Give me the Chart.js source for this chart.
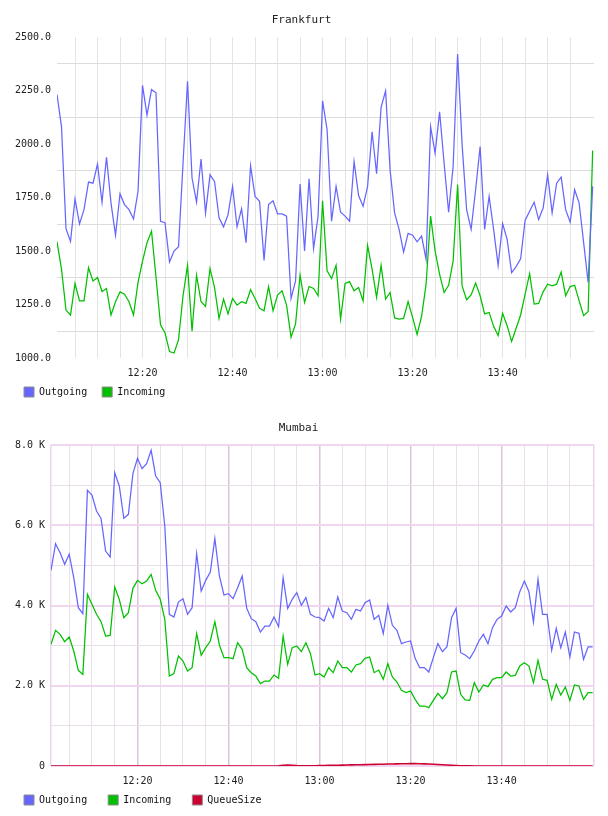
<!DOCTYPE html>
<html>
<head>
<meta charset="utf-8">
<title>Frankfurt / Mumbai</title>
<script src="https://cdn.jsdelivr.net/npm/chart.js@4.4.1/dist/chart.umd.min.js"></script>
<style>
  html, body { margin: 0; padding: 0; background: #fff; }
  #wrap { position: relative; width: 608px; height: 816px; }
  canvas { position: absolute; left: 0; }
  #chart-frankfurt { top: 0; }
  #chart-mumbai { top: 408px; }
</style>
</head>
<body>
<div id="wrap">
  <canvas id="chart-frankfurt" width="608" height="408"></canvas>
  <canvas id="chart-mumbai" width="608" height="408"></canvas>
</div>
<script>
// one sample per minute, minutes after 12:00 (12:01 .. 14:00)
const sampleMinutes = Array.from({ length: 120 }, (_, i) => i + 1);

// x axis: grid every 5 minutes, labels every 20
const xGridMinutes = [5, 10, 15, 20, 25, 30, 35, 40, 45, 50, 55, 60, 65, 70, 75, 80, 85, 90, 95, 100, 105, 110, 115];
const xTickMinutes = [20, 40, 60, 80, 100];
const xTickLabels = ['12:20', '12:40', '13:00', '13:20', '13:40'];

// y axis ticks
const frankfurtYTicks = [1000, 1125, 1250, 1375, 1500, 1625, 1750, 1875, 2000, 2125, 2250, 2375, 2500];
const mumbaiYTicks = [0, 1000, 2000, 3000, 4000, 5000, 6000, 7000, 8000];

const seriesNames = ['Outgoing', 'Incoming', 'QueueSize'];
const seriesColors = ['#6666ff', '#00c000', '#cc0033'];

// Frankfurt
const frankfurtOutgoing = [
  2231, 2081, 1604, 1545, 1743, 1627, 1693, 1822, 1817, 1906,
  1728, 1938, 1724, 1574, 1768, 1717, 1693, 1650, 1779, 2274,
  2135, 2254, 2239, 1639, 1632, 1449, 1500, 1520, 1910, 2293,
  1841, 1728, 1930, 1678, 1856, 1825, 1655, 1613, 1670, 1802,
  1613, 1697, 1539, 1898, 1755, 1732, 1456, 1717, 1735, 1673,
  1673, 1663, 1278, 1360, 1813, 1500, 1838, 1511, 1663, 2202,
  2068, 1639, 1802, 1681, 1663, 1639, 1918, 1759, 1709, 1802,
  2057, 1861, 2171, 2248, 1879, 1678, 1601, 1495, 1582, 1574,
  1543, 1570, 1461, 2081, 1957, 2150, 1910, 1681, 1895, 2421,
  1996, 1693, 1601, 1786, 1988, 1601, 1755, 1601, 1433, 1628,
  1554, 1399, 1427, 1464, 1644, 1686, 1728, 1647, 1701, 1856,
  1678, 1817, 1845, 1693, 1635, 1786, 1724, 1539, 1353, 1802
];
const frankfurtIncoming = [
  1543, 1415, 1224, 1201, 1348, 1267, 1267, 1422, 1360, 1376,
  1311, 1325, 1201, 1263, 1309, 1298, 1263, 1201, 1353, 1453,
  1539, 1593, 1376, 1155, 1117, 1030, 1023, 1086, 1291, 1433,
  1125, 1387, 1263, 1241, 1418, 1329, 1185, 1275, 1206, 1278,
  1247, 1263, 1255, 1319, 1278, 1232, 1221, 1333, 1221, 1294,
  1314, 1247, 1097, 1159, 1387, 1260, 1334, 1325, 1291, 1735,
  1407, 1371, 1433, 1182, 1348, 1357, 1314, 1329, 1267, 1526,
  1415, 1283, 1433, 1275, 1306, 1187, 1182, 1185, 1264, 1190,
  1110, 1195, 1345, 1663, 1500, 1391, 1306, 1340, 1453, 1810,
  1337, 1272, 1295, 1350, 1291, 1206, 1213, 1148, 1105, 1209,
  1151, 1077, 1139, 1201, 1298, 1394, 1252, 1255, 1309, 1345,
  1337, 1345, 1402, 1291, 1334, 1340, 1267, 1198, 1217, 1969
];

// Mumbai
const mumbaiOutgoing = [
  4876, 5541, 5317, 5026, 5275, 4693, 3946, 3796, 6870, 6754,
  6355, 6172, 5358, 5208, 7310, 6978, 6172, 6272, 7285, 7667,
  7410, 7534, 7867, 7227, 7061, 5981, 3780, 3713, 4087, 4170,
  3780, 3946, 5292, 4361, 4627, 4835, 5674, 4735, 4262, 4295,
  4170, 4444, 4735, 3929, 3672, 3597, 3339, 3489, 3489, 3713,
  3472, 4693, 3929, 4154, 4320, 4004, 4195, 3780, 3713, 3697,
  3614, 3929, 3697, 4212, 3863, 3821, 3655, 3904, 3863, 4070,
  4137, 3655, 3755, 3298, 4004, 3506, 3381, 3049, 3090, 3115,
  2683, 2451, 2451, 2343, 2700, 3049, 2849, 2974, 3697, 3929,
  2824, 2766, 2675, 2866, 3115, 3281, 3049, 3447, 3655, 3738,
  3987, 3838, 3946, 4345, 4610, 4345, 3589, 4652, 3780, 3780,
  2883, 3431, 2949, 3339, 2716, 3339, 3306, 2658, 2966, 2966
];
const mumbaiIncoming = [
  3032, 3381, 3281, 3099, 3215, 2866, 2384, 2284, 4278, 4029,
  3780, 3597, 3240, 3256, 4461, 4154, 3697, 3821, 4428, 4627,
  4544, 4610, 4776, 4378, 4154, 3655, 2243, 2301, 2741, 2617,
  2368, 2451, 3298, 2758, 2949, 3115, 3597, 3016, 2700, 2700,
  2675, 3074, 2907, 2451, 2326, 2243, 2052, 2118, 2118, 2268,
  2185, 3240, 2534, 2949, 2991, 2849, 3074, 2800, 2268, 2301,
  2218, 2451, 2326, 2617, 2451, 2451, 2343, 2517, 2550, 2683,
  2716, 2326, 2392, 2160, 2550, 2218, 2093, 1886, 1828, 1869,
  1661, 1495, 1495, 1454, 1636, 1811, 1678, 1828, 2343, 2367,
  1786, 1645, 1636, 2077, 1844, 2019, 1977, 2160, 2201, 2201,
  2343, 2243, 2260, 2492, 2575, 2492, 2077, 2633, 2160, 2135,
  1661, 2035, 1769, 1969, 1636, 2019, 1994, 1661, 1828, 1828
];
const mumbaiQueueSize = [
  0, 0, 0, 0, 0, 0, 0, 0, 0, 0,
  0, 0, 0, 0, 0, 0, 0, 0, 0, 0,
  0, 0, 0, 0, 0, 0, 0, 0, 0, 0,
  0, 0, 0, 0, 0, 0, 0, 0, 0, 0,
  0, 0, 0, 0, 0, 0, 0, 0, 0, 0,
  5, 15, 25, 20, 10, 5, 5, 5, 8, 10,
  12, 15, 18, 20, 22, 25, 28, 30, 33, 35,
  38, 40, 42, 45, 48, 50, 52, 55, 56, 58,
  58, 56, 52, 48, 42, 36, 30, 24, 18, 12,
  8, 4, 2, 0, 0, 0, 0, 0, 0, 0,
  0, 0, 0, 0, 0, 0, 0, 0, 0, 0,
  0, 0, 0, 0, 0, 0, 0, 0, 0, 0
];

const FONT = 'DejaVu Sans Mono';
const X_MIN = 1;
const X_MAX = 120.3;

function toPoints(values) {
  return values.map((v, i) => ({ x: sampleMinutes[i], y: v }));
}

function makeDataset(idx, values) {
  return {
    label: seriesNames[idx],
    data: toPoints(values),
    borderColor: seriesColors[idx],
    backgroundColor: seriesColors[idx],
    borderWidth: idx === 2 ? 1.6 : 1.25,
    pointRadius: 0,
    tension: 0,
    fill: false
  };
}

function xLabel(value) {
  const k = xTickMinutes.indexOf(value);
  return k >= 0 ? xTickLabels[k] : '';
}

function buildChart(canvasId, cfg) {
  const ctx = document.getElementById(canvasId).getContext('2d');
  return new Chart(ctx, {
    type: 'line',
    data: { datasets: cfg.datasets },
    options: {
      responsive: false,
      animation: false,
      events: [],
      devicePixelRatio: 1,
      layout: { padding: { left: cfg.padLeft, right: 14, top: 0, bottom: 1 } },
      plugins: {
        title: {
          display: true,
          text: cfg.title,
          color: '#222',
          font: { family: FONT, size: 11, weight: 'normal' },
          padding: { top: 13.4, bottom: 10.4 }
        },
        legend: {
          display: true,
          position: 'bottom',
          align: 'start',
          labels: {
            boxWidth: 10,
            boxHeight: 10,
            padding: cfg.legendGap,
            color: '#111',
            font: { family: FONT, size: 10 },
            generateLabels: chart => Chart.defaults.plugins.legend.labels.generateLabels(chart)
              .map(item => Object.assign(item, { strokeStyle: '#8c8c8c', lineWidth: 1 }))
          }
        },
        tooltip: { enabled: false }
      },
      scales: {
        x: {
          type: 'linear',
          min: X_MIN,
          max: X_MAX,
          afterBuildTicks: axis => { axis.ticks = cfg.xGrid.map(v => ({ value: v })); },
          afterFit: axis => {
            axis.height = cfg.xAxisHeight;
            // the axis box is kept short so the legend sits close; let the labels overflow it
            axis._computeLabelArea = () => null;
          },
          border: { display: false },
          grid: {
            drawTicks: false,
            color: cfg.xGridColor,
            lineWidth: cfg.xGridWidth
          },
          ticks: {
            autoSkip: false,
            maxRotation: 0,
            padding: 9,
            color: '#222',
            font: { family: FONT, size: 10 },
            callback: xLabel
          }
        },
        y: {
          min: cfg.yTicks[0],
          max: cfg.yTicks[cfg.yTicks.length - 1],
          afterBuildTicks: axis => { axis.ticks = cfg.yTicks.map(v => ({ value: v })); },
          afterFit: axis => { axis.width = 48; },
          border: { display: false },
          grid: {
            drawTicks: false,
            color: cfg.yGridColor,
            lineWidth: cfg.yGridWidth
          },
          ticks: {
            autoSkip: false,
            padding: 6,
            color: '#222',
            font: { family: FONT, size: 10 },
            callback: cfg.yLabel
          }
        }
      }
    }
  });
}

// Frankfurt: plain grey grid, lines between labelled values
buildChart('chart-frankfurt', {
  title: 'Frankfurt',
  datasets: [makeDataset(0, frankfurtOutgoing), makeDataset(1, frankfurtIncoming)],
  padLeft: 9,
  legendGap: 15,
  xAxisHeight: 14,
  xGrid: xGridMinutes,
  yTicks: frankfurtYTicks,
  xGridColor: '#e4e4e4',
  xGridWidth: 1,
  yGridColor: c => (c.tick && c.tick.value % 250 === 0) ? 'rgba(0,0,0,0)' : '#dcdcdc',
  yGridWidth: 1,
  yLabel: v => (v % 250 === 0 ? Number(v).toFixed(1) : '')
});

// Mumbai: lilac grid with a frame
buildChart('chart-mumbai', {
  title: 'Mumbai',
  datasets: [
    makeDataset(0, mumbaiOutgoing),
    makeDataset(1, mumbaiIncoming),
    makeDataset(2, mumbaiQueueSize)
  ],
  padLeft: 3,
  legendGap: 21,
  xAxisHeight: 8,
  xGrid: [X_MIN].concat(xGridMinutes, [X_MAX]),
  yTicks: mumbaiYTicks,
  xGridColor: c => {
    const v = c.tick ? c.tick.value : 0;
    if (v === X_MIN || v === X_MAX) return '#e8d6e8';
    return v % 20 === 0 ? '#dcc3dc' : '#e8dfe8';
  },
  xGridWidth: c => {
    const v = c.tick ? c.tick.value : 0;
    return (v === X_MIN || v === X_MAX || v % 20 === 0) ? 1.5 : 1;
  },
  yGridColor: c => (c.tick && c.tick.value % 2000 === 0) ? '#f0d6ee' : '#e8e0e8',
  yGridWidth: c => (c.tick && c.tick.value % 2000 === 0) ? 2 : 1,
  yLabel: v => (v === 0 ? '0' : (v % 2000 === 0 ? (v / 1000).toFixed(1) + ' K' : ''))
});
</script>
</body>
</html>
